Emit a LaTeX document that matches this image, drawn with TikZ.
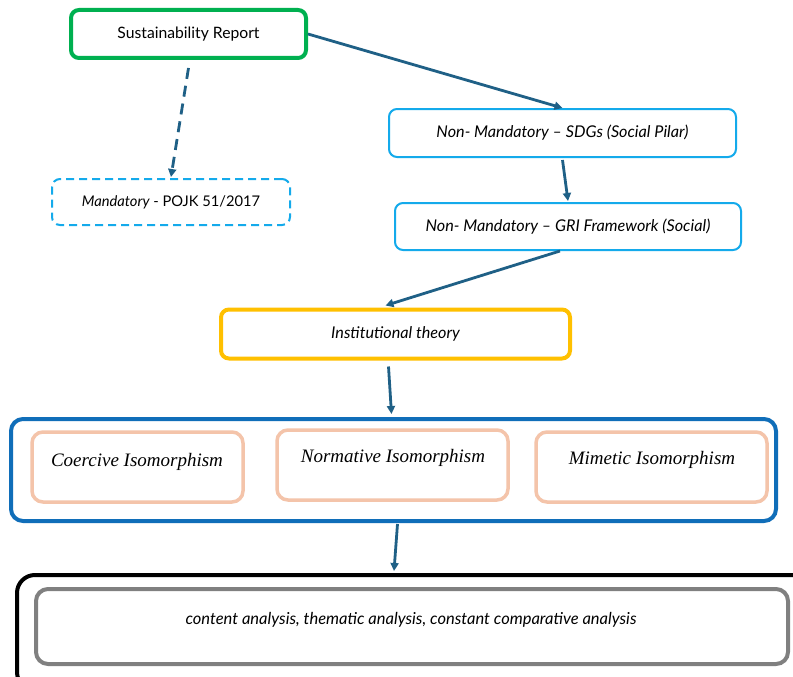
\documentclass[tikz,border=0pt]{standalone}
\usepackage{fontspec}
\setmainfont{Lato}
\newfontfamily\isofont{Liberation Serif}
\usetikzlibrary{arrows.meta}
\definecolor{cgreen}{RGB}{0,176,80}
\definecolor{ccyan}{RGB}{20,170,235}
\definecolor{cgold}{RGB}{255,192,0}
\definecolor{cblue}{RGB}{16,110,185}
\definecolor{cpeach}{RGB}{244,196,170}
\definecolor{cgray}{RGB}{128,128,128}
\definecolor{carrow}{RGB}{31,96,134}
\tikzset{
  box/.style={draw, rounded corners=8pt, inner sep=0pt, align=center, font=\fontsize{16.2}{18}\selectfont\itshape},
  greenbox/.style={box, draw=cgreen, line width=4pt, font=\fontsize{15.7}{18}\selectfont},
  cyanbox/.style={box, draw=ccyan, line width=2pt},
  dashbox/.style={cyanbox, dash pattern=on 8pt off 5pt, font=\fontsize{14.7}{17}\selectfont\itshape},
  goldbox/.style={box, draw=cgold, line width=4pt},
  bluebox/.style={box, draw=cblue, line width=4pt, rounded corners=12pt},
  peachbox/.style={box, draw=cpeach, line width=3.5pt, rounded corners=11pt},
  blackbox/.style={box, draw=black, line width=4pt, rounded corners=18pt},
  graybox/.style={box, draw=cgray, line width=4pt, rounded corners=12pt},
  isolbl/.style={inner sep=0pt, font=\isofont\fontsize{19}{22}\selectfont\itshape},
  arr/.style={draw=carrow, line width=2.8pt, -{Triangle[length=8pt,width=8pt]}, shorten >=0pt},
}
\begin{document}
\begin{tikzpicture}[x=1pt,y=-1pt]
\useasboundingbox (0,0) rectangle (793,677);
\clip (0,0) rectangle (793,677);
\fill[white] (0,0) rectangle (793,677);

\node[greenbox, minimum width=235pt, minimum height=48pt] (sr) at (188.5,34) {Sustainability Report};
\node[dashbox, minimum width=238pt, minimum height=46pt] (mand) at (171,202) {Mandatory\upshape{} - POJK 51/2017};
\node[cyanbox, minimum width=347pt, minimum height=48pt] (sdg) at (562.5,133) {Non- Mandatory – SDGs (Social Pilar)};
\node[cyanbox, minimum width=346pt, minimum height=47pt] (gri) at (568,226.5) {Non- Mandatory – GRI Framework (Social)};
\node[goldbox, minimum width=349pt, minimum height=49pt] (inst) at (395.5,334) {Institutional theory};

\node[bluebox, minimum width=765pt, minimum height=102pt] (big) at (393.5,470) {};
\node[peachbox, minimum width=211pt, minimum height=70pt] (coer) at (137.5,467) {};
\node[peachbox, minimum width=231pt, minimum height=70pt] (norm) at (392.5,465) {};
\node[peachbox, minimum width=231pt, minimum height=70pt] (mim) at (651.5,467) {};
\node[isolbl] (coert) at (137,462) {Coercive Isomorphism};
\node[isolbl] (normt) at (393,458) {Normative Isomorphism};
\node[isolbl] (mimt) at (652,460) {Mimetic Isomorphism};

\node[blackbox, minimum width=830pt, minimum height=115pt] (blk) at (432,632.5) {};
\node[graybox, minimum width=752pt, minimum height=75pt] (ana) at (412,626.5) {};
\node[inner sep=0pt, font=\fontsize{16.5}{18}\selectfont\itshape] (anat) at (411,620) {content analysis, thematic analysis, constant comparative analysis};

\draw[arr] (sr.east) -- (sdg.north);
\draw[arr, dash pattern=on 11pt off 7pt] ([yshift=-8pt]sr.south) -- ([yshift=1pt]mand.north);
\draw[arr] ([yshift=-2pt]sdg.south) -- ([yshift=1pt]gri.north);
\draw[arr] ([xshift=-8pt]gri.south) -- ([xshift=-10pt,yshift=2pt]inst.north);
\draw[arr] ([xshift=-7pt,yshift=-6pt]inst.south) -- ([xshift=-2pt,yshift=3pt]big.north);
\draw[arr] ([xshift=4pt,yshift=-1pt]big.south) -- ([xshift=-38pt,yshift=2pt]blk.north);
\end{tikzpicture}
\end{document}
